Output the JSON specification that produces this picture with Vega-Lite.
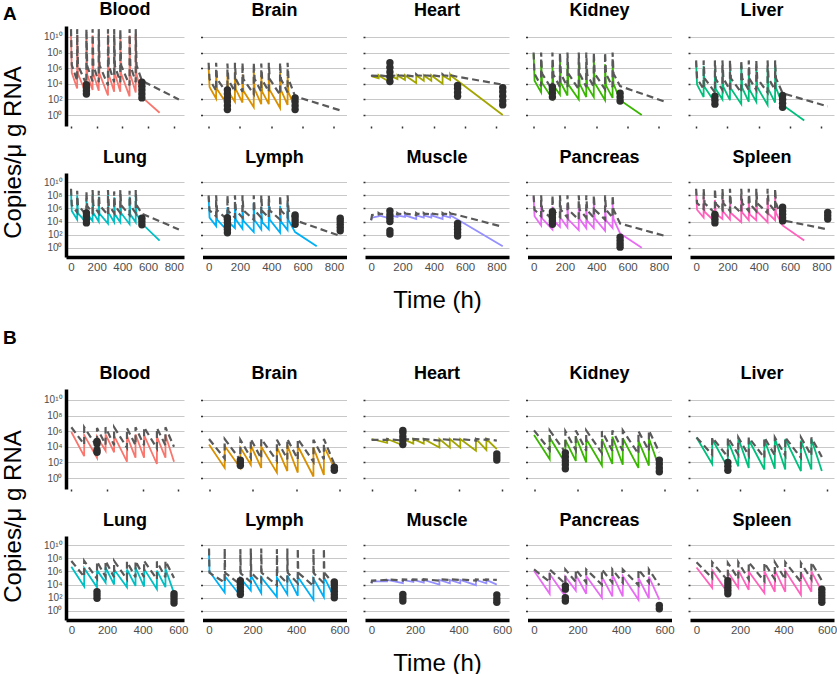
{
"$schema":"https://vega.github.io/schema/vega-lite/v6.json",
"background":"#ffffff",
"padding":{"left":1,"top":0,"right":2,"bottom":0},
"config":{"view":{"stroke":null},"font":"Liberation Sans",
"title":{"fontSize":18,"fontWeight":"bold","color":"#000000","offset":6,"anchor":"middle","font":"Liberation Sans"},
"axis":{"labels":false,"domain":false,"grid":false,"ticks":true,"tickSize":2,"tickWidth":1.5,"tickColor":"#333333","labelFont":"Liberation Sans","labelFontSize":11.5,"labelColor":"#4d4d4d","titleFont":"Liberation Sans","titleFontSize":24,"titleFontWeight":"normal","titleColor":"#000000"},
"axisY":{"grid":true,"gridColor":"#c8c8c8","gridWidth":1},
"mark":{"invalid":"filter"},"line":{"invalid":"filter"},"circle":{"invalid":"filter"}},
"datasets":{
"A":[
{"k":"c","i":1,"t":0,"Blood":10.3,"Brain":6.1,"Heart":5.0,"Kidney":7.8,"Liver":6.8,"Lung":8.7,"Lymph":7.7,"Muscle":4.2,"Pancreas":7.7,"Spleen":8.5},
{"k":"c","i":2,"t":6,"Blood":5.4,"Brain":3.6,"Heart":4.95,"Kidney":4.4,"Liver":3.9,"Lung":5.6,"Lymph":4.6,"Muscle":4.6,"Pancreas":4.8,"Spleen":5.8},
{"k":"c","i":3,"t":48,"Blood":3.4,"Brain":2.1,"Heart":4.7,"Kidney":2.9,"Liver":2.3,"Lung":4.3,"Lymph":3.3,"Muscle":4.8,"Pancreas":3.4,"Spleen":4.6},
{"k":"c","i":4,"t":48,"Blood":10.2,"Brain":5.4,"Heart":5.1,"Kidney":6.9,"Liver":6.3,"Lung":8.0,"Lymph":6.9,"Muscle":5.0,"Pancreas":6.8,"Spleen":7.8},
{"k":"c","i":5,"t":54,"Blood":5.3,"Brain":3.3,"Heart":5.0,"Kidney":4.1,"Liver":3.6,"Lung":5.3,"Lymph":4.3,"Muscle":4.9,"Pancreas":4.5,"Spleen":5.5},
{"k":"c","i":6,"t":120,"Blood":2.6,"Brain":1.3,"Heart":4.2,"Kidney":2.1,"Liver":1.6,"Lung":3.8,"Lymph":2.6,"Muscle":4.5,"Pancreas":2.8,"Spleen":4.0},
{"k":"c","i":7,"t":120,"Blood":10.4,"Brain":5.0,"Heart":5.1,"Kidney":6.3,"Liver":5.9,"Lung":7.6,"Lymph":6.2,"Muscle":5.0,"Pancreas":6.3,"Spleen":7.3},
{"k":"c","i":8,"t":126,"Blood":5.2,"Brain":3.0,"Heart":5.0,"Kidney":3.8,"Liver":3.3,"Lung":5.1,"Lymph":4.0,"Muscle":4.9,"Pancreas":4.2,"Spleen":5.2},
{"k":"c","i":9,"t":168,"Blood":3.2,"Brain":1.7,"Heart":4.6,"Kidney":2.6,"Liver":2.0,"Lung":4.1,"Lymph":3.0,"Muscle":4.7,"Pancreas":3.2,"Spleen":4.4},
{"k":"c","i":10,"t":168,"Blood":10.2,"Brain":5.5,"Heart":5.1,"Kidney":7.0,"Liver":6.4,"Lung":8.2,"Lymph":7.0,"Muscle":5.0,"Pancreas":7.0,"Spleen":8.0},
{"k":"c","i":11,"t":174,"Blood":5.3,"Brain":3.3,"Heart":5.0,"Kidney":4.1,"Liver":3.6,"Lung":5.3,"Lymph":4.3,"Muscle":4.9,"Pancreas":4.5,"Spleen":5.5},
{"k":"c","i":12,"t":216,"Blood":3.1,"Brain":1.6,"Heart":4.5,"Kidney":2.5,"Liver":1.9,"Lung":4.0,"Lymph":2.9,"Muscle":4.7,"Pancreas":3.1,"Spleen":4.3},
{"k":"c","i":13,"t":216,"Blood":10.3,"Brain":5.2,"Heart":5.1,"Kidney":6.5,"Liver":6.1,"Lung":7.8,"Lymph":6.5,"Muscle":5.0,"Pancreas":6.5,"Spleen":7.5},
{"k":"c","i":14,"t":222,"Blood":5.3,"Brain":3.1,"Heart":5.0,"Kidney":3.9,"Liver":3.4,"Lung":5.2,"Lymph":4.1,"Muscle":4.9,"Pancreas":4.3,"Spleen":5.3},
{"k":"c","i":15,"t":288,"Blood":2.5,"Brain":1.0,"Heart":4.1,"Kidney":2.0,"Liver":1.4,"Lung":3.7,"Lymph":2.4,"Muscle":4.4,"Pancreas":2.7,"Spleen":3.9},
{"k":"c","i":16,"t":288,"Blood":10.3,"Brain":5.6,"Heart":5.1,"Kidney":6.8,"Liver":6.3,"Lung":8.1,"Lymph":6.9,"Muscle":5.0,"Pancreas":6.9,"Spleen":7.9},
{"k":"c","i":17,"t":294,"Blood":5.2,"Brain":3.3,"Heart":5.0,"Kidney":4.0,"Liver":3.5,"Lung":5.3,"Lymph":4.2,"Muscle":4.9,"Pancreas":4.4,"Spleen":5.4},
{"k":"c","i":18,"t":336,"Blood":3.0,"Brain":1.4,"Heart":4.4,"Kidney":2.3,"Liver":1.7,"Lung":3.9,"Lymph":2.8,"Muscle":4.6,"Pancreas":3.0,"Spleen":4.2},
{"k":"c","i":19,"t":336,"Blood":10.2,"Brain":5.1,"Heart":5.1,"Kidney":6.2,"Liver":5.9,"Lung":7.7,"Lymph":6.2,"Muscle":5.0,"Pancreas":6.3,"Spleen":7.3},
{"k":"c","i":20,"t":342,"Blood":5.3,"Brain":3.0,"Heart":5.0,"Kidney":3.7,"Liver":3.2,"Lung":5.1,"Lymph":3.9,"Muscle":4.9,"Pancreas":4.1,"Spleen":5.1},
{"k":"c","i":21,"t":384,"Blood":3.0,"Brain":1.4,"Heart":4.4,"Kidney":2.3,"Liver":1.7,"Lung":3.9,"Lymph":2.8,"Muscle":4.6,"Pancreas":3.0,"Spleen":4.2},
{"k":"c","i":22,"t":384,"Blood":10.3,"Brain":5.4,"Heart":5.1,"Kidney":7.1,"Liver":6.3,"Lung":8.2,"Lymph":7.0,"Muscle":5.0,"Pancreas":7.0,"Spleen":8.0},
{"k":"c","i":23,"t":390,"Blood":5.3,"Brain":3.2,"Heart":5.0,"Kidney":4.1,"Liver":3.6,"Lung":5.3,"Lymph":4.3,"Muscle":4.9,"Pancreas":4.5,"Spleen":5.5},
{"k":"c","i":24,"t":456,"Blood":2.4,"Brain":0.9,"Heart":4.0,"Kidney":1.9,"Liver":1.3,"Lung":3.6,"Lymph":2.3,"Muscle":4.4,"Pancreas":2.6,"Spleen":3.9},
{"k":"c","i":25,"t":456,"Blood":10.2,"Brain":5.5,"Heart":5.1,"Kidney":6.5,"Liver":6.0,"Lung":7.8,"Lymph":6.4,"Muscle":5.0,"Pancreas":6.5,"Spleen":7.5},
{"k":"c","i":26,"t":462,"Blood":5.2,"Brain":3.2,"Heart":5.0,"Kidney":3.8,"Liver":3.3,"Lung":5.1,"Lymph":4.0,"Muscle":4.9,"Pancreas":4.2,"Spleen":5.2},
{"k":"c","i":27,"t":504,"Blood":2.9,"Brain":1.3,"Heart":4.5,"Kidney":2.2,"Liver":1.6,"Lung":3.9,"Lymph":2.7,"Muscle":4.6,"Pancreas":3.0,"Spleen":4.2},
{"k":"c","i":28,"t":504,"Blood":10.3,"Brain":4.9,"Heart":5.2,"Kidney":6.9,"Liver":6.2,"Lung":8.0,"Lymph":6.8,"Muscle":5.0,"Pancreas":6.9,"Spleen":7.8},
{"k":"c","i":29,"t":510,"Blood":5.3,"Brain":2.9,"Heart":5.0,"Kidney":4.0,"Liver":3.5,"Lung":5.2,"Lymph":4.2,"Muscle":4.9,"Pancreas":4.4,"Spleen":5.3},
{"k":"c","i":30,"t":552,"Blood":2.3,"Brain":0.9,"Heart":4.4,"Kidney":1.9,"Liver":1.3,"Lung":3.7,"Lymph":2.4,"Muscle":4.3,"Pancreas":2.2,"Spleen":3.4},
{"k":"c","i":31,"t":690,"Blood":0.3,"Kidney":0.0,"Liver":-0.7,"Lung":1.1,"Lymph":0.25,"Pancreas":0.0,"Spleen":1.1},
{"k":"c","i":32,"t":840,"Heart":0.0,"Muscle":0.25},
{"k":"g","i":1,"t":0,"Blood":11.0,"Brain":6.7,"Heart":5.0,"Kidney":8.0,"Liver":7.0,"Lung":9.0,"Lymph":8.0,"Muscle":4.2,"Pancreas":8.0,"Spleen":9.0},
{"k":"g","i":2,"t":6,"Blood":6.4,"Brain":4.6,"Heart":5.05,"Kidney":5.3,"Liver":4.7,"Lung":6.5,"Lymph":5.7,"Muscle":5.0,"Pancreas":5.8,"Spleen":6.8},
{"k":"g","i":3,"t":48,"Blood":4.4,"Brain":3.1,"Heart":5.0,"Kidney":3.7,"Liver":3.3,"Lung":5.4,"Lymph":4.8,"Muscle":5.1,"Pancreas":4.8,"Spleen":5.9},
{"k":"g","i":4,"t":48,"Blood":11.0,"Brain":6.7,"Heart":5.2,"Kidney":8.0,"Liver":7.0,"Lung":8.7,"Lymph":8.0,"Muscle":5.3,"Pancreas":8.0,"Spleen":9.0},
{"k":"g","i":5,"t":54,"Blood":6.4,"Brain":4.6,"Heart":5.1,"Kidney":5.3,"Liver":4.7,"Lung":6.5,"Lymph":5.7,"Muscle":5.2,"Pancreas":5.8,"Spleen":6.8},
{"k":"g","i":6,"t":120,"Blood":3.9,"Brain":2.7,"Heart":4.9,"Kidney":3.2,"Liver":2.9,"Lung":5.0,"Lymph":4.3,"Muscle":5.0,"Pancreas":4.3,"Spleen":5.3},
{"k":"g","i":7,"t":120,"Blood":11.0,"Brain":6.6,"Heart":5.2,"Kidney":8.0,"Liver":7.0,"Lung":8.6,"Lymph":8.0,"Muscle":5.3,"Pancreas":8.0,"Spleen":9.0},
{"k":"g","i":8,"t":126,"Blood":6.3,"Brain":4.5,"Heart":5.1,"Kidney":5.2,"Liver":4.6,"Lung":6.4,"Lymph":5.6,"Muscle":5.2,"Pancreas":5.7,"Spleen":6.7},
{"k":"g","i":9,"t":168,"Blood":4.3,"Brain":3.0,"Heart":5.0,"Kidney":3.6,"Liver":3.2,"Lung":5.3,"Lymph":4.6,"Muscle":5.1,"Pancreas":4.7,"Spleen":5.7},
{"k":"g","i":10,"t":168,"Blood":11.0,"Brain":6.7,"Heart":5.2,"Kidney":8.0,"Liver":7.0,"Lung":8.8,"Lymph":8.0,"Muscle":5.3,"Pancreas":8.0,"Spleen":9.0},
{"k":"g","i":11,"t":174,"Blood":6.4,"Brain":4.6,"Heart":5.1,"Kidney":5.3,"Liver":4.7,"Lung":6.5,"Lymph":5.7,"Muscle":5.2,"Pancreas":5.8,"Spleen":6.8},
{"k":"g","i":12,"t":216,"Blood":4.2,"Brain":3.0,"Heart":5.0,"Kidney":3.6,"Liver":3.2,"Lung":5.3,"Lymph":4.6,"Muscle":5.1,"Pancreas":4.6,"Spleen":5.6},
{"k":"g","i":13,"t":216,"Blood":11.0,"Brain":6.7,"Heart":5.2,"Kidney":8.0,"Liver":7.0,"Lung":8.7,"Lymph":8.0,"Muscle":5.3,"Pancreas":8.0,"Spleen":9.0},
{"k":"g","i":14,"t":222,"Blood":6.4,"Brain":4.6,"Heart":5.1,"Kidney":5.3,"Liver":4.7,"Lung":6.5,"Lymph":5.7,"Muscle":5.2,"Pancreas":5.8,"Spleen":6.8},
{"k":"g","i":15,"t":288,"Blood":3.8,"Brain":2.7,"Heart":4.9,"Kidney":3.3,"Liver":2.9,"Lung":5.0,"Lymph":4.3,"Muscle":5.0,"Pancreas":4.3,"Spleen":5.3},
{"k":"g","i":16,"t":288,"Blood":11.0,"Brain":6.7,"Heart":5.2,"Kidney":8.0,"Liver":7.0,"Lung":8.8,"Lymph":8.0,"Muscle":5.3,"Pancreas":8.0,"Spleen":9.0},
{"k":"g","i":17,"t":294,"Blood":6.4,"Brain":4.6,"Heart":5.1,"Kidney":5.3,"Liver":4.7,"Lung":6.5,"Lymph":5.7,"Muscle":5.2,"Pancreas":5.8,"Spleen":6.8},
{"k":"g","i":18,"t":336,"Blood":4.2,"Brain":3.0,"Heart":5.0,"Kidney":3.6,"Liver":3.2,"Lung":5.3,"Lymph":4.6,"Muscle":5.1,"Pancreas":4.6,"Spleen":5.6},
{"k":"g","i":19,"t":336,"Blood":11.0,"Brain":6.6,"Heart":5.2,"Kidney":8.0,"Liver":7.0,"Lung":8.6,"Lymph":8.0,"Muscle":5.3,"Pancreas":8.0,"Spleen":9.0},
{"k":"g","i":20,"t":342,"Blood":6.3,"Brain":4.5,"Heart":5.1,"Kidney":5.2,"Liver":4.6,"Lung":6.4,"Lymph":5.6,"Muscle":5.2,"Pancreas":5.7,"Spleen":6.7},
{"k":"g","i":21,"t":384,"Blood":4.2,"Brain":3.0,"Heart":5.0,"Kidney":3.6,"Liver":3.2,"Lung":5.3,"Lymph":4.6,"Muscle":5.1,"Pancreas":4.6,"Spleen":5.6},
{"k":"g","i":22,"t":384,"Blood":11.0,"Brain":6.7,"Heart":5.2,"Kidney":8.0,"Liver":7.0,"Lung":8.8,"Lymph":8.0,"Muscle":5.3,"Pancreas":8.0,"Spleen":9.0},
{"k":"g","i":23,"t":390,"Blood":6.4,"Brain":4.6,"Heart":5.1,"Kidney":5.3,"Liver":4.7,"Lung":6.5,"Lymph":5.7,"Muscle":5.2,"Pancreas":5.8,"Spleen":6.8},
{"k":"g","i":24,"t":456,"Blood":3.8,"Brain":2.6,"Heart":4.9,"Kidney":3.3,"Liver":2.9,"Lung":5.0,"Lymph":4.3,"Muscle":5.0,"Pancreas":4.3,"Spleen":5.3},
{"k":"g","i":25,"t":456,"Blood":11.0,"Brain":6.7,"Heart":5.2,"Kidney":8.0,"Liver":7.0,"Lung":8.7,"Lymph":8.0,"Muscle":5.3,"Pancreas":8.0,"Spleen":9.0},
{"k":"g","i":26,"t":462,"Blood":6.4,"Brain":4.6,"Heart":5.1,"Kidney":5.3,"Liver":4.7,"Lung":6.5,"Lymph":5.7,"Muscle":5.2,"Pancreas":5.8,"Spleen":6.8},
{"k":"g","i":27,"t":504,"Blood":4.2,"Brain":2.9,"Heart":5.0,"Kidney":3.6,"Liver":3.2,"Lung":5.3,"Lymph":4.6,"Muscle":5.1,"Pancreas":4.6,"Spleen":5.6},
{"k":"g","i":28,"t":504,"Blood":11.0,"Brain":6.7,"Heart":5.2,"Kidney":8.0,"Liver":7.0,"Lung":8.8,"Lymph":8.0,"Muscle":5.3,"Pancreas":8.0,"Spleen":9.0},
{"k":"g","i":29,"t":510,"Blood":6.4,"Brain":4.6,"Heart":5.1,"Kidney":5.3,"Liver":4.7,"Lung":6.5,"Lymph":5.7,"Muscle":5.2,"Pancreas":5.8,"Spleen":6.8},
{"k":"g","i":30,"t":552,"Blood":4.4,"Brain":2.4,"Heart":4.9,"Kidney":3.7,"Liver":2.8,"Lung":5.2,"Lymph":4.2,"Muscle":5.0,"Pancreas":3.7,"Spleen":4.2},
{"k":"g","i":31,"t":840,"Blood":2.0,"Brain":0.6,"Heart":3.9,"Kidney":1.7,"Liver":1.1,"Lung":2.8,"Lymph":1.8,"Muscle":3.2,"Pancreas":1.8,"Spleen":2.8},
{"k":"o","t":120,"Blood":2.7,"Brain":0.7,"Heart":4.3,"Kidney":2.3,"Liver":1.4,"Lung":3.8,"Lymph":2.3,"Muscle":2.1,"Pancreas":3.6,"Spleen":3.8},
{"k":"o","t":120,"Blood":3.1,"Brain":1.2,"Heart":4.9,"Kidney":2.8,"Liver":1.9,"Lung":4.3,"Lymph":2.8,"Muscle":2.6,"Pancreas":4.1,"Spleen":4.3},
{"k":"o","t":120,"Blood":3.5,"Brain":1.7,"Heart":5.5,"Kidney":3.3,"Liver":2.4,"Lung":4.8,"Lymph":3.3,"Muscle":4.0,"Pancreas":4.6,"Spleen":4.8},
{"k":"o","t":120,"Blood":3.9,"Brain":2.2,"Heart":6.1,"Kidney":3.6,"Lung":5.3,"Lymph":3.8,"Muscle":4.5,"Pancreas":5.1,"Spleen":5.1},
{"k":"o","t":120,"Brain":2.7,"Heart":6.7,"Lymph":4.3,"Muscle":5.0,"Pancreas":5.5},
{"k":"o","t":120,"Brain":3.2,"Lymph":4.6,"Muscle":5.6},
{"k":"o","t":552,"Blood":2.2,"Brain":0.7,"Heart":2.4,"Kidney":1.8,"Liver":1.0,"Lung":3.5,"Lymph":3.6,"Muscle":1.8,"Pancreas":0.1,"Spleen":4.1},
{"k":"o","t":552,"Blood":2.7,"Brain":1.2,"Heart":2.9,"Kidney":2.3,"Liver":1.5,"Lung":4.0,"Lymph":4.1,"Muscle":2.3,"Pancreas":0.6,"Spleen":4.6},
{"k":"o","t":552,"Blood":3.2,"Brain":1.7,"Heart":3.4,"Kidney":2.8,"Liver":2.0,"Lung":4.5,"Lymph":4.6,"Muscle":2.8,"Pancreas":1.1,"Spleen":5.1},
{"k":"o","t":552,"Blood":3.7,"Brain":2.2,"Heart":3.8,"Liver":2.5,"Lymph":5.0,"Muscle":3.3,"Pancreas":1.6,"Spleen":5.6},
{"k":"o","t":552,"Blood":4.2,"Muscle":3.7,"Spleen":6.2},
{"k":"o","t":840,"Heart":1.3,"Lymph":2.6,"Spleen":4.4},
{"k":"o","t":840,"Heart":1.8,"Lymph":3.1,"Spleen":4.9},
{"k":"o","t":840,"Heart":2.4,"Lymph":3.6,"Spleen":5.4},
{"k":"o","t":840,"Heart":3.0,"Lymph":4.1},
{"k":"o","t":840,"Heart":3.5,"Lymph":4.5}
],
"B":[
{"k":"c","i":1,"t":0,"Blood":5.9,"Brain":4.3,"Heart":5.0,"Kidney":5.5,"Liver":5.2,"Lung":6.7,"Lymph":9.0,"Muscle":4.2,"Pancreas":6.1,"Spleen":6.6},
{"k":"c","i":2,"t":2,"Lymph":6.0,"Muscle":4.5},
{"k":"c","i":3,"t":72,"Blood":2.8,"Brain":1.3,"Heart":4.5,"Kidney":2.4,"Liver":1.8,"Lung":3.7,"Lymph":2.8,"Muscle":4.5,"Pancreas":2.6,"Spleen":3.5},
{"k":"c","i":4,"t":72,"Blood":5.5,"Brain":4.1,"Heart":5.0,"Kidney":5.2,"Liver":5.0,"Lung":6.5,"Lymph":5.3,"Muscle":4.7,"Pancreas":5.6,"Spleen":6.2},
{"k":"c","i":5,"t":144,"Blood":2.6,"Brain":1.3,"Heart":4.2,"Kidney":1.9,"Liver":1.3,"Lung":3.6,"Lymph":2.3,"Muscle":4.2,"Pancreas":2.2,"Spleen":2.7},
{"k":"c","i":6,"t":144,"Blood":5.3,"Brain":3.9,"Heart":5.0,"Kidney":4.9,"Liver":4.8,"Lung":6.2,"Lymph":5.0,"Muscle":4.7,"Pancreas":5.2,"Spleen":5.9},
{"k":"c","i":7,"t":192,"Blood":3.5,"Brain":1.7,"Heart":4.4,"Kidney":2.2,"Liver":1.5,"Lung":4.3,"Lymph":3.1,"Muscle":4.4,"Pancreas":3.1,"Spleen":3.5},
{"k":"c","i":8,"t":192,"Blood":5.6,"Brain":4.2,"Heart":5.0,"Kidney":5.3,"Liver":5.1,"Lung":6.6,"Lymph":5.4,"Muscle":4.7,"Pancreas":5.5,"Spleen":6.2},
{"k":"c","i":9,"t":240,"Blood":3.3,"Brain":1.3,"Heart":4.4,"Kidney":2.0,"Liver":1.3,"Lung":4.0,"Lymph":2.7,"Muscle":4.3,"Pancreas":2.6,"Spleen":3.2},
{"k":"c","i":10,"t":240,"Blood":5.4,"Brain":4.0,"Heart":5.0,"Kidney":5.0,"Liver":4.9,"Lung":6.3,"Lymph":5.1,"Muscle":4.7,"Pancreas":5.3,"Spleen":6.0},
{"k":"c","i":11,"t":312,"Blood":2.1,"Brain":0.7,"Heart":3.9,"Kidney":1.6,"Liver":1.1,"Lung":3.6,"Lymph":2.1,"Muscle":4.0,"Pancreas":2.0,"Spleen":2.7},
{"k":"c","i":12,"t":312,"Blood":5.4,"Brain":4.0,"Heart":5.0,"Kidney":5.0,"Liver":4.9,"Lung":6.3,"Lymph":5.1,"Muscle":4.7,"Pancreas":5.2,"Spleen":6.0},
{"k":"c","i":13,"t":360,"Blood":2.6,"Brain":0.9,"Heart":3.9,"Kidney":1.8,"Liver":1.2,"Lung":3.8,"Lymph":2.5,"Muscle":4.2,"Pancreas":2.2,"Spleen":2.9},
{"k":"c","i":14,"t":360,"Blood":5.6,"Brain":4.2,"Heart":5.0,"Kidney":5.3,"Liver":5.1,"Lung":6.6,"Lymph":5.4,"Muscle":4.7,"Pancreas":5.5,"Spleen":6.2},
{"k":"c","i":15,"t":408,"Blood":2.6,"Brain":0.7,"Heart":3.9,"Kidney":1.7,"Liver":1.1,"Lung":3.7,"Lymph":2.3,"Muscle":4.2,"Pancreas":2.2,"Spleen":2.9},
{"k":"c","i":16,"t":408,"Blood":5.5,"Brain":4.1,"Heart":5.0,"Kidney":5.1,"Liver":5.0,"Lung":6.4,"Lymph":5.2,"Muscle":4.7,"Pancreas":5.3,"Spleen":6.1},
{"k":"c","i":17,"t":480,"Blood":1.8,"Brain":0.2,"Heart":3.5,"Kidney":1.3,"Liver":0.9,"Lung":3.3,"Lymph":1.7,"Muscle":3.9,"Pancreas":1.7,"Spleen":2.4},
{"k":"c","i":18,"t":480,"Blood":5.3,"Brain":3.9,"Heart":5.0,"Kidney":4.8,"Liver":4.8,"Lung":6.1,"Lymph":4.9,"Muscle":4.7,"Pancreas":5.0,"Spleen":5.8},
{"k":"c","i":19,"t":528,"Blood":2.6,"Brain":0.4,"Heart":3.6,"Kidney":1.6,"Liver":1.1,"Lung":3.6,"Lymph":2.1,"Muscle":4.2,"Pancreas":1.9,"Spleen":2.9},
{"k":"c","i":20,"t":528,"Blood":5.5,"Brain":4.1,"Heart":5.0,"Kidney":5.1,"Liver":5.0,"Lung":6.4,"Lymph":5.2,"Muscle":4.7,"Pancreas":5.2,"Spleen":6.0},
{"k":"c","i":21,"t":576,"Blood":2.1,"Brain":1.3,"Heart":3.7,"Kidney":1.3,"Liver":0.9,"Lung":2.7,"Lymph":2.0,"Muscle":4.0,"Pancreas":1.7,"Spleen":3.0},
{"k":"g","i":1,"t":0,"Blood":6.5,"Brain":5.0,"Heart":4.9,"Kidney":6.1,"Liver":5.2,"Lung":7.6,"Lymph":9.5,"Muscle":4.2,"Pancreas":6.3,"Spleen":7.4},
{"k":"g","i":2,"t":2,"Lymph":5.8,"Muscle":4.6},
{"k":"g","i":3,"t":72,"Blood":4.3,"Brain":2.5,"Heart":4.9,"Kidney":3.6,"Liver":3.0,"Lung":5.2,"Lymph":4.3,"Muscle":4.7,"Pancreas":4.4,"Spleen":5.0},
{"k":"g","i":4,"t":72,"Blood":6.5,"Brain":5.0,"Heart":5.0,"Kidney":6.1,"Liver":5.2,"Lung":7.6,"Lymph":9.5,"Muscle":4.8,"Pancreas":6.3,"Spleen":7.4},
{"k":"g","i":5,"t":74,"Lymph":5.8},
{"k":"g","i":6,"t":144,"Blood":4.0,"Brain":2.3,"Heart":4.8,"Kidney":3.3,"Liver":2.7,"Lung":4.9,"Lymph":4.0,"Muscle":4.6,"Pancreas":4.1,"Spleen":4.6},
{"k":"g","i":7,"t":144,"Blood":6.4,"Brain":4.9,"Heart":5.0,"Kidney":6.0,"Liver":5.2,"Lung":7.5,"Lymph":9.4,"Muscle":4.8,"Pancreas":6.3,"Spleen":7.3},
{"k":"g","i":8,"t":146,"Lymph":5.7},
{"k":"g","i":9,"t":192,"Blood":4.3,"Brain":2.6,"Heart":4.9,"Kidney":3.6,"Liver":3.0,"Lung":5.2,"Lymph":4.4,"Muscle":4.7,"Pancreas":4.4,"Spleen":4.9},
{"k":"g","i":10,"t":192,"Blood":6.5,"Brain":5.0,"Heart":5.0,"Kidney":6.1,"Liver":5.2,"Lung":7.6,"Lymph":9.5,"Muscle":4.8,"Pancreas":6.3,"Spleen":7.4},
{"k":"g","i":11,"t":194,"Lymph":5.8},
{"k":"g","i":12,"t":240,"Blood":4.2,"Brain":2.5,"Heart":4.9,"Kidney":3.5,"Liver":2.9,"Lung":5.1,"Lymph":4.3,"Muscle":4.7,"Pancreas":4.3,"Spleen":4.8},
{"k":"g","i":13,"t":240,"Blood":6.5,"Brain":5.0,"Heart":5.0,"Kidney":6.1,"Liver":5.2,"Lung":7.6,"Lymph":9.5,"Muscle":4.8,"Pancreas":6.3,"Spleen":7.4},
{"k":"g","i":14,"t":242,"Lymph":5.8},
{"k":"g","i":15,"t":312,"Blood":3.9,"Brain":2.2,"Heart":4.8,"Kidney":3.2,"Liver":2.6,"Lung":4.8,"Lymph":3.9,"Muscle":4.6,"Pancreas":4.0,"Spleen":4.5},
{"k":"g","i":16,"t":312,"Blood":6.4,"Brain":4.9,"Heart":5.0,"Kidney":6.0,"Liver":5.2,"Lung":7.5,"Lymph":9.4,"Muscle":4.8,"Pancreas":6.3,"Spleen":7.3},
{"k":"g","i":17,"t":314,"Lymph":5.7},
{"k":"g","i":18,"t":360,"Blood":4.2,"Brain":2.4,"Heart":4.9,"Kidney":3.5,"Liver":2.9,"Lung":5.1,"Lymph":4.2,"Muscle":4.7,"Pancreas":4.3,"Spleen":4.8},
{"k":"g","i":19,"t":360,"Blood":6.5,"Brain":5.0,"Heart":5.0,"Kidney":6.1,"Liver":5.2,"Lung":7.6,"Lymph":9.5,"Muscle":4.8,"Pancreas":6.3,"Spleen":7.4},
{"k":"g","i":20,"t":362,"Lymph":5.8},
{"k":"g","i":21,"t":408,"Blood":4.2,"Brain":2.4,"Heart":4.9,"Kidney":3.5,"Liver":2.9,"Lung":5.1,"Lymph":4.2,"Muscle":4.7,"Pancreas":4.3,"Spleen":4.8},
{"k":"g","i":22,"t":408,"Blood":6.5,"Brain":5.0,"Heart":5.0,"Kidney":6.1,"Liver":5.2,"Lung":7.6,"Lymph":9.5,"Muscle":4.8,"Pancreas":6.3,"Spleen":7.4},
{"k":"g","i":23,"t":410,"Lymph":5.8},
{"k":"g","i":24,"t":480,"Blood":3.8,"Brain":2.1,"Heart":4.8,"Kidney":3.1,"Liver":2.6,"Lung":4.8,"Lymph":3.8,"Muscle":4.6,"Pancreas":3.9,"Spleen":4.4},
{"k":"g","i":25,"t":480,"Blood":6.4,"Brain":4.9,"Heart":5.0,"Kidney":6.0,"Liver":5.2,"Lung":7.5,"Lymph":9.4,"Muscle":4.8,"Pancreas":6.3,"Spleen":7.3},
{"k":"g","i":26,"t":482,"Lymph":5.7},
{"k":"g","i":27,"t":528,"Blood":4.2,"Brain":2.4,"Heart":4.9,"Kidney":3.5,"Liver":2.9,"Lung":5.1,"Lymph":4.2,"Muscle":4.7,"Pancreas":4.3,"Spleen":4.8},
{"k":"g","i":28,"t":528,"Blood":6.5,"Brain":5.0,"Heart":5.0,"Kidney":6.1,"Liver":5.2,"Lung":7.6,"Lymph":9.5,"Muscle":4.8,"Pancreas":6.3,"Spleen":7.4},
{"k":"g","i":29,"t":530,"Lymph":5.8},
{"k":"g","i":30,"t":576,"Blood":4.0,"Brain":1.8,"Heart":4.8,"Kidney":3.3,"Liver":2.7,"Lung":5.0,"Lymph":4.0,"Muscle":4.7,"Pancreas":3.9,"Spleen":4.6},
{"k":"o","t":144,"Blood":3.3,"Brain":1.6,"Heart":4.3,"Kidney":1.2,"Liver":1.0,"Lung":1.9,"Lymph":2.5,"Muscle":1.5,"Pancreas":1.5,"Spleen":2.6},
{"k":"o","t":144,"Blood":3.6,"Brain":2.0,"Heart":4.8,"Kidney":1.7,"Liver":1.5,"Lung":2.4,"Lymph":3.0,"Muscle":2.0,"Pancreas":2.0,"Spleen":3.1},
{"k":"o","t":144,"Blood":4.4,"Brain":2.3,"Heart":5.3,"Kidney":2.2,"Liver":2.0,"Lung":2.9,"Lymph":3.5,"Muscle":2.5,"Pancreas":3.3,"Spleen":3.6},
{"k":"o","t":144,"Blood":4.7,"Heart":5.8,"Kidney":2.7,"Lymph":4.0,"Pancreas":3.8,"Spleen":4.1},
{"k":"o","t":144,"Heart":6.1,"Kidney":3.2,"Lymph":4.6,"Spleen":4.6},
{"k":"o","t":576,"Brain":1.0,"Heart":2.3,"Kidney":0.8,"Lung":1.2,"Lymph":2.0,"Muscle":1.3,"Pancreas":0.3,"Spleen":1.3},
{"k":"o","t":576,"Brain":1.4,"Heart":2.7,"Kidney":1.3,"Lung":1.7,"Lymph":2.5,"Muscle":1.8,"Pancreas":0.8,"Spleen":1.8},
{"k":"o","t":576,"Heart":3.1,"Kidney":1.8,"Lung":2.2,"Lymph":3.0,"Muscle":2.4,"Spleen":2.3},
{"k":"o","t":576,"Kidney":2.3,"Lung":2.6,"Lymph":3.5,"Spleen":2.8},
{"k":"o","t":576,"Lymph":4.0,"Spleen":3.3},
{"k":"o","t":576,"Lymph":4.4}
]},
"spacing":17,
"vconcat":[
{"title":{"text":"A","anchor":"start","frame":"group","fontSize":19,"fontWeight":"bold","dx":-63,"dy":46,"offset":8,"baseline":"alphabetic"},
"columns":5,"align":"each","bounds":"flush","spacing":{"row":47,"column":18.5},"concat":[
{"title":"Blood","width":118,"height":100,"data":{"name":"A"},"encoding":{"x":{"field":"t","type":"quantitative","scale":{"domain":[-39,880],"nice":false,"zero":false},"axis":{"values":[0,200,400,600,800],"title":null}},"y":{"field":"Blood","type":"quantitative","scale":{"domain":[-1.4,11.4],"nice":false,"zero":false},"axis":{"values":[0,2,4,6,8,10],"labels":true,"labelExpr":"'10' + ['⁰','²','⁴','⁶','⁸','¹⁰'][round(datum.value/2)]","domain":true,"domainColor":"#000000","domainWidth":3.5,"ticks":false,"labelPadding":4,"labelFontSize":10,"title":"Copies/μ g RNA","titleX":-53,"titleY":126,"titleBaseline":"middle","titleAngle":270,"titleAlign":"center"}},"order":{"field":"i","type":"quantitative"}},
"layer":[{"transform":[{"filter":"datum.k=='c'"}],"mark":{"type":"line","color":"#F8766D","strokeWidth":1.8}},{"transform":[{"filter":"datum.k=='g'"}],"mark":{"type":"line","color":"#595959","strokeWidth":2.2,"strokeDash":[7,4]}},{"transform":[{"filter":"datum.k=='o'"}],"mark":{"type":"circle","color":"#2e2e2e","size":55,"opacity":1}}]},
{"title":"Brain","width":144,"height":100,"data":{"name":"A"},"encoding":{"x":{"field":"t","type":"quantitative","scale":{"domain":[-39,880],"nice":false,"zero":false},"axis":{"values":[0,200,400,600,800],"title":null}},"y":{"field":"Brain","type":"quantitative","scale":{"domain":[-1.4,11.4],"nice":false,"zero":false},"axis":{"values":[0,2,4,6,8,10],"title":null}},"order":{"field":"i","type":"quantitative"}},
"layer":[{"transform":[{"filter":"datum.k=='c'"}],"mark":{"type":"line","color":"#D89000","strokeWidth":1.8}},{"transform":[{"filter":"datum.k=='g'"}],"mark":{"type":"line","color":"#595959","strokeWidth":2.2,"strokeDash":[7,4]}},{"transform":[{"filter":"datum.k=='o'"}],"mark":{"type":"circle","color":"#2e2e2e","size":55,"opacity":1}}]},
{"title":"Heart","width":144,"height":100,"data":{"name":"A"},"encoding":{"x":{"field":"t","type":"quantitative","scale":{"domain":[-39,880],"nice":false,"zero":false},"axis":{"values":[0,200,400,600,800],"title":null}},"y":{"field":"Heart","type":"quantitative","scale":{"domain":[-1.4,11.4],"nice":false,"zero":false},"axis":{"values":[0,2,4,6,8,10],"title":null}},"order":{"field":"i","type":"quantitative"}},
"layer":[{"transform":[{"filter":"datum.k=='c'"}],"mark":{"type":"line","color":"#A3A500","strokeWidth":1.8}},{"transform":[{"filter":"datum.k=='g'"}],"mark":{"type":"line","color":"#595959","strokeWidth":2.2,"strokeDash":[7,4]}},{"transform":[{"filter":"datum.k=='o'"}],"mark":{"type":"circle","color":"#2e2e2e","size":55,"opacity":1}}]},
{"title":"Kidney","width":144,"height":100,"data":{"name":"A"},"encoding":{"x":{"field":"t","type":"quantitative","scale":{"domain":[-39,880],"nice":false,"zero":false},"axis":{"values":[0,200,400,600,800],"title":null}},"y":{"field":"Kidney","type":"quantitative","scale":{"domain":[-1.4,11.4],"nice":false,"zero":false},"axis":{"values":[0,2,4,6,8,10],"title":null}},"order":{"field":"i","type":"quantitative"}},
"layer":[{"transform":[{"filter":"datum.k=='c'"}],"mark":{"type":"line","color":"#39B600","strokeWidth":1.8}},{"transform":[{"filter":"datum.k=='g'"}],"mark":{"type":"line","color":"#595959","strokeWidth":2.2,"strokeDash":[7,4]}},{"transform":[{"filter":"datum.k=='o'"}],"mark":{"type":"circle","color":"#2e2e2e","size":55,"opacity":1}}]},
{"title":"Liver","width":144,"height":100,"data":{"name":"A"},"encoding":{"x":{"field":"t","type":"quantitative","scale":{"domain":[-39,880],"nice":false,"zero":false},"axis":{"values":[0,200,400,600,800],"title":null}},"y":{"field":"Liver","type":"quantitative","scale":{"domain":[-1.4,11.4],"nice":false,"zero":false},"axis":{"values":[0,2,4,6,8,10],"title":null}},"order":{"field":"i","type":"quantitative"}},
"layer":[{"transform":[{"filter":"datum.k=='c'"}],"mark":{"type":"line","color":"#00BF7D","strokeWidth":1.8}},{"transform":[{"filter":"datum.k=='g'"}],"mark":{"type":"line","color":"#595959","strokeWidth":2.2,"strokeDash":[7,4]}},{"transform":[{"filter":"datum.k=='o'"}],"mark":{"type":"circle","color":"#2e2e2e","size":55,"opacity":1}}]},
{"title":"Lung","width":118,"height":84,"data":{"name":"A"},"encoding":{"x":{"field":"t","type":"quantitative","scale":{"domain":[-39,880],"nice":false,"zero":false},"axis":{"values":[0,200,400,600,800],"title":null,"labels":true,"domain":true,"domainColor":"#000000","domainWidth":3.5,"ticks":false,"labelPadding":4}},"y":{"field":"Lung","type":"quantitative","scale":{"domain":[-1.4,11.4],"nice":false,"zero":false},"axis":{"values":[0,2,4,6,8,10],"labels":true,"labelExpr":"'10' + ['⁰','²','⁴','⁶','⁸','¹⁰'][round(datum.value/2)]","domain":true,"domainColor":"#000000","domainWidth":3.5,"ticks":false,"labelPadding":4,"labelFontSize":10,"title":null}},"order":{"field":"i","type":"quantitative"}},
"layer":[{"transform":[{"filter":"datum.k=='c'"}],"mark":{"type":"line","color":"#00BFC4","strokeWidth":1.8}},{"transform":[{"filter":"datum.k=='g'"}],"mark":{"type":"line","color":"#595959","strokeWidth":2.2,"strokeDash":[7,4]}},{"transform":[{"filter":"datum.k=='o'"}],"mark":{"type":"circle","color":"#2e2e2e","size":55,"opacity":1}}]},
{"title":"Lymph","width":144,"height":84,"data":{"name":"A"},"encoding":{"x":{"field":"t","type":"quantitative","scale":{"domain":[-39,880],"nice":false,"zero":false},"axis":{"values":[0,200,400,600,800],"title":null,"labels":true,"domain":true,"domainColor":"#000000","domainWidth":3.5,"ticks":false,"labelPadding":4}},"y":{"field":"Lymph","type":"quantitative","scale":{"domain":[-1.4,11.4],"nice":false,"zero":false},"axis":{"values":[0,2,4,6,8,10],"title":null}},"order":{"field":"i","type":"quantitative"}},
"layer":[{"transform":[{"filter":"datum.k=='c'"}],"mark":{"type":"line","color":"#00B0F6","strokeWidth":1.8}},{"transform":[{"filter":"datum.k=='g'"}],"mark":{"type":"line","color":"#595959","strokeWidth":2.2,"strokeDash":[7,4]}},{"transform":[{"filter":"datum.k=='o'"}],"mark":{"type":"circle","color":"#2e2e2e","size":55,"opacity":1}}]},
{"title":"Muscle","width":144,"height":84,"data":{"name":"A"},"encoding":{"x":{"field":"t","type":"quantitative","scale":{"domain":[-39,880],"nice":false,"zero":false},"axis":{"values":[0,200,400,600,800],"labels":true,"domain":true,"domainColor":"#000000","domainWidth":3.5,"ticks":false,"labelPadding":4,"title":"Time (h)","titleY":50,"titleBaseline":"alphabetic"}},"y":{"field":"Muscle","type":"quantitative","scale":{"domain":[-1.4,11.4],"nice":false,"zero":false},"axis":{"values":[0,2,4,6,8,10],"title":null}},"order":{"field":"i","type":"quantitative"}},
"layer":[{"transform":[{"filter":"datum.k=='c'"}],"mark":{"type":"line","color":"#9590FF","strokeWidth":1.8}},{"transform":[{"filter":"datum.k=='g'"}],"mark":{"type":"line","color":"#595959","strokeWidth":2.2,"strokeDash":[7,4]}},{"transform":[{"filter":"datum.k=='o'"}],"mark":{"type":"circle","color":"#2e2e2e","size":55,"opacity":1}}]},
{"title":"Pancreas","width":144,"height":84,"data":{"name":"A"},"encoding":{"x":{"field":"t","type":"quantitative","scale":{"domain":[-39,880],"nice":false,"zero":false},"axis":{"values":[0,200,400,600,800],"title":null,"labels":true,"domain":true,"domainColor":"#000000","domainWidth":3.5,"ticks":false,"labelPadding":4}},"y":{"field":"Pancreas","type":"quantitative","scale":{"domain":[-1.4,11.4],"nice":false,"zero":false},"axis":{"values":[0,2,4,6,8,10],"title":null}},"order":{"field":"i","type":"quantitative"}},
"layer":[{"transform":[{"filter":"datum.k=='c'"}],"mark":{"type":"line","color":"#E76BF3","strokeWidth":1.8}},{"transform":[{"filter":"datum.k=='g'"}],"mark":{"type":"line","color":"#595959","strokeWidth":2.2,"strokeDash":[7,4]}},{"transform":[{"filter":"datum.k=='o'"}],"mark":{"type":"circle","color":"#2e2e2e","size":55,"opacity":1}}]},
{"title":"Spleen","width":144,"height":84,"data":{"name":"A"},"encoding":{"x":{"field":"t","type":"quantitative","scale":{"domain":[-39,880],"nice":false,"zero":false},"axis":{"values":[0,200,400,600,800],"title":null,"labels":true,"domain":true,"domainColor":"#000000","domainWidth":3.5,"ticks":false,"labelPadding":4}},"y":{"field":"Spleen","type":"quantitative","scale":{"domain":[-1.4,11.4],"nice":false,"zero":false},"axis":{"values":[0,2,4,6,8,10],"title":null}},"order":{"field":"i","type":"quantitative"}},
"layer":[{"transform":[{"filter":"datum.k=='c'"}],"mark":{"type":"line","color":"#FF62BC","strokeWidth":1.8}},{"transform":[{"filter":"datum.k=='g'"}],"mark":{"type":"line","color":"#595959","strokeWidth":2.2,"strokeDash":[7,4]}},{"transform":[{"filter":"datum.k=='o'"}],"mark":{"type":"circle","color":"#2e2e2e","size":55,"opacity":1}}]}
]},
{"title":{"text":"B","anchor":"start","frame":"group","fontSize":19,"fontWeight":"bold","dx":-63,"dy":6,"offset":8,"baseline":"alphabetic"},
"columns":5,"align":"each","bounds":"flush","spacing":{"row":47,"column":18.5},"concat":[
{"title":"Blood","width":118,"height":100,"data":{"name":"B"},"encoding":{"x":{"field":"t","type":"quantitative","scale":{"domain":[-30,632],"nice":false,"zero":false},"axis":{"values":[0,200,400,600],"title":null}},"y":{"field":"Blood","type":"quantitative","scale":{"domain":[-1.4,11.4],"nice":false,"zero":false},"axis":{"values":[0,2,4,6,8,10],"labels":true,"labelExpr":"'10' + ['⁰','²','⁴','⁶','⁸','¹⁰'][round(datum.value/2)]","domain":true,"domainColor":"#000000","domainWidth":3.5,"ticks":false,"labelPadding":4,"labelFontSize":10,"title":"Copies/μ g RNA","titleX":-53,"titleY":127,"titleBaseline":"middle","titleAngle":270,"titleAlign":"center"}},"order":{"field":"i","type":"quantitative"}},
"layer":[{"transform":[{"filter":"datum.k=='c'"}],"mark":{"type":"line","color":"#F8766D","strokeWidth":1.8}},{"transform":[{"filter":"datum.k=='g'"}],"mark":{"type":"line","color":"#595959","strokeWidth":2.2,"strokeDash":[7,4]}},{"transform":[{"filter":"datum.k=='o'"}],"mark":{"type":"circle","color":"#2e2e2e","size":55,"opacity":1}}]},
{"title":"Brain","width":144,"height":100,"data":{"name":"B"},"encoding":{"x":{"field":"t","type":"quantitative","scale":{"domain":[-30,632],"nice":false,"zero":false},"axis":{"values":[0,200,400,600],"title":null}},"y":{"field":"Brain","type":"quantitative","scale":{"domain":[-1.4,11.4],"nice":false,"zero":false},"axis":{"values":[0,2,4,6,8,10],"title":null}},"order":{"field":"i","type":"quantitative"}},
"layer":[{"transform":[{"filter":"datum.k=='c'"}],"mark":{"type":"line","color":"#D89000","strokeWidth":1.8}},{"transform":[{"filter":"datum.k=='g'"}],"mark":{"type":"line","color":"#595959","strokeWidth":2.2,"strokeDash":[7,4]}},{"transform":[{"filter":"datum.k=='o'"}],"mark":{"type":"circle","color":"#2e2e2e","size":55,"opacity":1}}]},
{"title":"Heart","width":144,"height":100,"data":{"name":"B"},"encoding":{"x":{"field":"t","type":"quantitative","scale":{"domain":[-30,632],"nice":false,"zero":false},"axis":{"values":[0,200,400,600],"title":null}},"y":{"field":"Heart","type":"quantitative","scale":{"domain":[-1.4,11.4],"nice":false,"zero":false},"axis":{"values":[0,2,4,6,8,10],"title":null}},"order":{"field":"i","type":"quantitative"}},
"layer":[{"transform":[{"filter":"datum.k=='c'"}],"mark":{"type":"line","color":"#A3A500","strokeWidth":1.8}},{"transform":[{"filter":"datum.k=='g'"}],"mark":{"type":"line","color":"#595959","strokeWidth":2.2,"strokeDash":[7,4]}},{"transform":[{"filter":"datum.k=='o'"}],"mark":{"type":"circle","color":"#2e2e2e","size":55,"opacity":1}}]},
{"title":"Kidney","width":144,"height":100,"data":{"name":"B"},"encoding":{"x":{"field":"t","type":"quantitative","scale":{"domain":[-30,632],"nice":false,"zero":false},"axis":{"values":[0,200,400,600],"title":null}},"y":{"field":"Kidney","type":"quantitative","scale":{"domain":[-1.4,11.4],"nice":false,"zero":false},"axis":{"values":[0,2,4,6,8,10],"title":null}},"order":{"field":"i","type":"quantitative"}},
"layer":[{"transform":[{"filter":"datum.k=='c'"}],"mark":{"type":"line","color":"#39B600","strokeWidth":1.8}},{"transform":[{"filter":"datum.k=='g'"}],"mark":{"type":"line","color":"#595959","strokeWidth":2.2,"strokeDash":[7,4]}},{"transform":[{"filter":"datum.k=='o'"}],"mark":{"type":"circle","color":"#2e2e2e","size":55,"opacity":1}}]},
{"title":"Liver","width":144,"height":100,"data":{"name":"B"},"encoding":{"x":{"field":"t","type":"quantitative","scale":{"domain":[-30,632],"nice":false,"zero":false},"axis":{"values":[0,200,400,600],"title":null}},"y":{"field":"Liver","type":"quantitative","scale":{"domain":[-1.4,11.4],"nice":false,"zero":false},"axis":{"values":[0,2,4,6,8,10],"title":null}},"order":{"field":"i","type":"quantitative"}},
"layer":[{"transform":[{"filter":"datum.k=='c'"}],"mark":{"type":"line","color":"#00BF7D","strokeWidth":1.8}},{"transform":[{"filter":"datum.k=='g'"}],"mark":{"type":"line","color":"#595959","strokeWidth":2.2,"strokeDash":[7,4]}},{"transform":[{"filter":"datum.k=='o'"}],"mark":{"type":"circle","color":"#2e2e2e","size":55,"opacity":1}}]},
{"title":"Lung","width":118,"height":84,"data":{"name":"B"},"encoding":{"x":{"field":"t","type":"quantitative","scale":{"domain":[-30,632],"nice":false,"zero":false},"axis":{"values":[0,200,400,600],"title":null,"labels":true,"domain":true,"domainColor":"#000000","domainWidth":3.5,"ticks":false,"labelPadding":4}},"y":{"field":"Lung","type":"quantitative","scale":{"domain":[-1.4,11.4],"nice":false,"zero":false},"axis":{"values":[0,2,4,6,8,10],"labels":true,"labelExpr":"'10' + ['⁰','²','⁴','⁶','⁸','¹⁰'][round(datum.value/2)]","domain":true,"domainColor":"#000000","domainWidth":3.5,"ticks":false,"labelPadding":4,"labelFontSize":10,"title":null}},"order":{"field":"i","type":"quantitative"}},
"layer":[{"transform":[{"filter":"datum.k=='c'"}],"mark":{"type":"line","color":"#00BFC4","strokeWidth":1.8}},{"transform":[{"filter":"datum.k=='g'"}],"mark":{"type":"line","color":"#595959","strokeWidth":2.2,"strokeDash":[7,4]}},{"transform":[{"filter":"datum.k=='o'"}],"mark":{"type":"circle","color":"#2e2e2e","size":55,"opacity":1}}]},
{"title":"Lymph","width":144,"height":84,"data":{"name":"B"},"encoding":{"x":{"field":"t","type":"quantitative","scale":{"domain":[-30,632],"nice":false,"zero":false},"axis":{"values":[0,200,400,600],"title":null,"labels":true,"domain":true,"domainColor":"#000000","domainWidth":3.5,"ticks":false,"labelPadding":4}},"y":{"field":"Lymph","type":"quantitative","scale":{"domain":[-1.4,11.4],"nice":false,"zero":false},"axis":{"values":[0,2,4,6,8,10],"title":null}},"order":{"field":"i","type":"quantitative"}},
"layer":[{"transform":[{"filter":"datum.k=='c'"}],"mark":{"type":"line","color":"#00B0F6","strokeWidth":1.8}},{"transform":[{"filter":"datum.k=='g'"}],"mark":{"type":"line","color":"#595959","strokeWidth":2.2,"strokeDash":[7,4]}},{"transform":[{"filter":"datum.k=='o'"}],"mark":{"type":"circle","color":"#2e2e2e","size":55,"opacity":1}}]},
{"title":"Muscle","width":144,"height":84,"data":{"name":"B"},"encoding":{"x":{"field":"t","type":"quantitative","scale":{"domain":[-30,632],"nice":false,"zero":false},"axis":{"values":[0,200,400,600],"labels":true,"domain":true,"domainColor":"#000000","domainWidth":3.5,"ticks":false,"labelPadding":4,"title":"Time (h)","titleY":50,"titleBaseline":"alphabetic"}},"y":{"field":"Muscle","type":"quantitative","scale":{"domain":[-1.4,11.4],"nice":false,"zero":false},"axis":{"values":[0,2,4,6,8,10],"title":null}},"order":{"field":"i","type":"quantitative"}},
"layer":[{"transform":[{"filter":"datum.k=='c'"}],"mark":{"type":"line","color":"#9590FF","strokeWidth":1.8}},{"transform":[{"filter":"datum.k=='g'"}],"mark":{"type":"line","color":"#595959","strokeWidth":2.2,"strokeDash":[7,4]}},{"transform":[{"filter":"datum.k=='o'"}],"mark":{"type":"circle","color":"#2e2e2e","size":55,"opacity":1}}]},
{"title":"Pancreas","width":144,"height":84,"data":{"name":"B"},"encoding":{"x":{"field":"t","type":"quantitative","scale":{"domain":[-30,632],"nice":false,"zero":false},"axis":{"values":[0,200,400,600],"title":null,"labels":true,"domain":true,"domainColor":"#000000","domainWidth":3.5,"ticks":false,"labelPadding":4}},"y":{"field":"Pancreas","type":"quantitative","scale":{"domain":[-1.4,11.4],"nice":false,"zero":false},"axis":{"values":[0,2,4,6,8,10],"title":null}},"order":{"field":"i","type":"quantitative"}},
"layer":[{"transform":[{"filter":"datum.k=='c'"}],"mark":{"type":"line","color":"#E76BF3","strokeWidth":1.8}},{"transform":[{"filter":"datum.k=='g'"}],"mark":{"type":"line","color":"#595959","strokeWidth":2.2,"strokeDash":[7,4]}},{"transform":[{"filter":"datum.k=='o'"}],"mark":{"type":"circle","color":"#2e2e2e","size":55,"opacity":1}}]},
{"title":"Spleen","width":144,"height":84,"data":{"name":"B"},"encoding":{"x":{"field":"t","type":"quantitative","scale":{"domain":[-30,632],"nice":false,"zero":false},"axis":{"values":[0,200,400,600],"title":null,"labels":true,"domain":true,"domainColor":"#000000","domainWidth":3.5,"ticks":false,"labelPadding":4}},"y":{"field":"Spleen","type":"quantitative","scale":{"domain":[-1.4,11.4],"nice":false,"zero":false},"axis":{"values":[0,2,4,6,8,10],"title":null}},"order":{"field":"i","type":"quantitative"}},
"layer":[{"transform":[{"filter":"datum.k=='c'"}],"mark":{"type":"line","color":"#FF62BC","strokeWidth":1.8}},{"transform":[{"filter":"datum.k=='g'"}],"mark":{"type":"line","color":"#595959","strokeWidth":2.2,"strokeDash":[7,4]}},{"transform":[{"filter":"datum.k=='o'"}],"mark":{"type":"circle","color":"#2e2e2e","size":55,"opacity":1}}]}
]}
]
}
